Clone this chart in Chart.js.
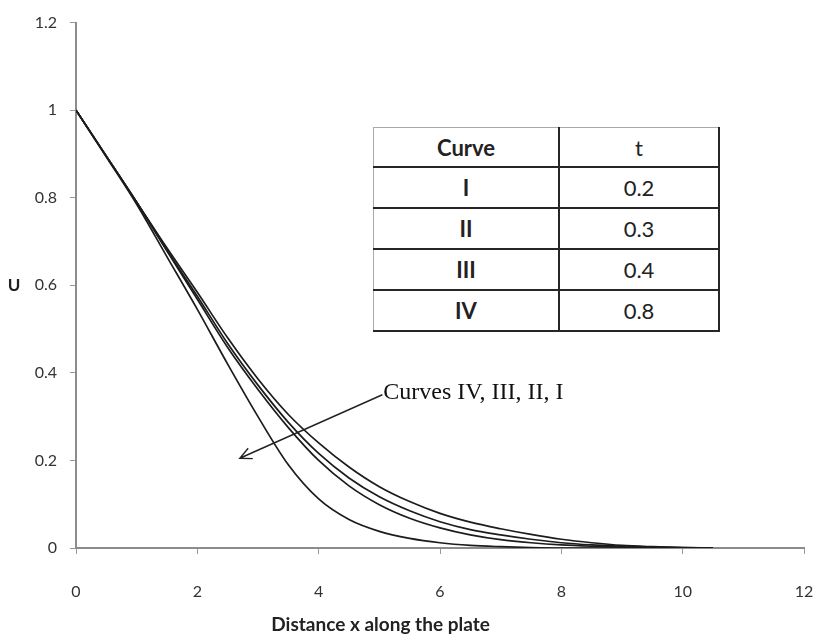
<!DOCTYPE html>
<html>
<head>
<meta charset="utf-8">
<script src="https://cdn.jsdelivr.net/npm/chart.js@4.4.0/dist/chart.umd.min.js"></script>
<style>
  body { margin: 0; background: #fff; }
  #wrap { position: relative; width: 817px; height: 640px; }
  #chart { position: absolute; left: 0; top: 0; }
  #tTable {
    position: absolute; left: 373px; top: 127px;
    border-collapse: collapse; background: #fff;
    font-family: Lato, "Open Sans", sans-serif; font-size: 22px; color: #222;
  }
  #tTable td { border: 2px solid #262626; text-align: center; padding: 0; height: 39px; }
  #tTable tr:first-child td { border-top: 1px solid #aaa; height: 38px; }
  #tTable td:first-child { border-left: 1px solid #aaa; width: 184px; font-weight: bold; }
  #tTable td:last-child { width: 158px; }
</style>
</head>
<body>
<div id="wrap">
  <canvas id="chart" width="817" height="640"></canvas>
  <table id="tTable"></table>
</div>
<script>
const xValues = [0, 0.5, 1, 1.5, 2, 2.5, 3, 3.5, 4, 4.5, 5, 5.5, 6, 6.5, 7, 7.5, 8, 8.5, 9, 9.5, 10, 10.5];
const curveI   = [1, 0.893, 0.785, 0.665, 0.545, 0.42, 0.3, 0.19, 0.112, 0.065, 0.038, 0.022, 0.012, 0.006, 0.003, 0.001, 0, 0, 0, 0, 0, 0];
const curveII  = [1, 0.895, 0.79, 0.678, 0.568, 0.458, 0.362, 0.275, 0.2, 0.142, 0.099, 0.068, 0.046, 0.03, 0.019, 0.012, 0.007, 0.004, 0.002, 0.001, 0, 0];
const curveIII = [1, 0.895, 0.79, 0.68, 0.575, 0.467, 0.372, 0.287, 0.216, 0.16, 0.117, 0.085, 0.06, 0.042, 0.03, 0.02, 0.012, 0.007, 0.004, 0.002, 0.001, 0];
const curveIV  = [1, 0.895, 0.79, 0.685, 0.584, 0.48, 0.386, 0.305, 0.24, 0.185, 0.14, 0.106, 0.079, 0.059, 0.044, 0.031, 0.02, 0.012, 0.006, 0.003, 0.001, 0];

const curveNames = ["I", "II", "III", "IV"];
const tValues = ["0.2", "0.3", "0.4", "0.8"];

const fontFamily = "Lato, 'Open Sans', sans-serif";

// legend table: curve number against time t
const table = document.getElementById("tTable");
table.innerHTML = "<tr><td>Curve</td><td>t</td></tr>" +
  curveNames.map((n, i) => `<tr><td>${n}</td><td>${tValues[i]}</td></tr>`).join("");

function toPoints(ys) {
  return xValues.map((x, i) => ({ x: x, y: ys[i] }));
}

const datasets = [curveI, curveII, curveIII, curveIV].map((ys, i) => ({
  label: "Curve " + curveNames[i],
  data: toPoints(ys),
  borderColor: "#1c1c1c",
  borderWidth: 1.7,
  pointRadius: 0,
  fill: false,
  cubicInterpolationMode: "monotone"
}));

// arrow pointing at the bundle of curves, with its caption
const arrowFrom = { x: 5.05, y: 0.35 };
const arrowTo = { x: 2.7, y: 0.205 };

const notes = {
  id: "notes",
  afterDatasetsDraw(chart) {
    const ctx = chart.ctx;
    const xs = chart.scales.x, ys = chart.scales.y;
    const x1 = xs.getPixelForValue(arrowFrom.x), y1 = ys.getPixelForValue(arrowFrom.y);
    const x2 = xs.getPixelForValue(arrowTo.x), y2 = ys.getPixelForValue(arrowTo.y);
    ctx.save();
    ctx.strokeStyle = "#222";
    ctx.lineWidth = 1.4;
    ctx.beginPath();
    ctx.moveTo(x1, y1);
    ctx.lineTo(x2, y2);
    const ang = Math.atan2(y1 - y2, x1 - x2);
    const len = 13;
    ctx.moveTo(x2 + len * Math.cos(ang + 0.45), y2 + len * Math.sin(ang + 0.45));
    ctx.lineTo(x2, y2);
    ctx.lineTo(x2 + len * Math.cos(ang - 0.45), y2 + len * Math.sin(ang - 0.45));
    ctx.stroke();

    ctx.fillStyle = "#111";
    ctx.font = "24px 'Liberation Serif', serif";
    ctx.textAlign = "left";
    ctx.textBaseline = "alphabetic";
    ctx.fillText("Curves IV, III, II, I", x1 + 1, y1 + 4);

    // axis titles: U sits beside the 0.6 tick, x title under the middle of the curves
    ctx.font = "bold 17px " + fontFamily;
    ctx.textAlign = "center";
    ctx.textBaseline = "middle";
    ctx.fillStyle = "#222";
    ctx.fillText("U", 14, ys.getPixelForValue(0.6));

    ctx.font = "bold 19px " + fontFamily;
    ctx.fillText("Distance x along the plate", xs.getPixelForValue(5.02), chart.height - 15);
    ctx.restore();
  }
};

new Chart(document.getElementById("chart"), {
  type: "line",
  data: { datasets: datasets },
  plugins: [notes],
  options: {
    responsive: false,
    animation: false,
    layout: { padding: { top: 14, right: 13, left: 0, bottom: 0 } },
    plugins: { legend: { display: false }, tooltip: { enabled: false } },
    scales: {
      x: {
        type: "linear", min: 0, max: 12,
        ticks: { stepSize: 2, padding: 28, color: "#333", font: { family: fontFamily, size: 16 } },
        grid: { drawOnChartArea: false, tickLength: 6, color: "#999" },
        border: { color: "#8c8c8c", width: 2 },
        afterFit: s => { s.height = 92; s.paddingRight = 0; }
      },
      y: {
        min: 0, max: 1.2,
        ticks: {
          stepSize: 0.2, padding: 13, color: "#333", font: { family: fontFamily, size: 16 },
          callback: v => String(Math.round(v * 10) / 10)
        },
        grid: { drawOnChartArea: false, tickLength: 6, color: "#999" },
        border: { color: "#8c8c8c", width: 2 },
        afterFit: s => { s.width = 76; }
      }
    }
  }
});
</script>
</body>
</html>
